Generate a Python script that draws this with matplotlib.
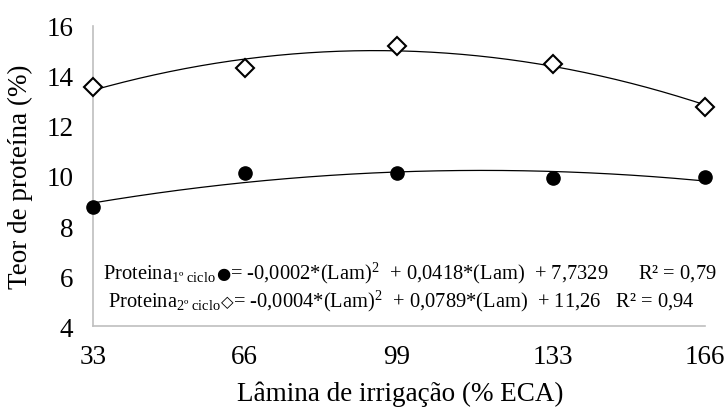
import numpy as np
import matplotlib
matplotlib.use("Agg")
import matplotlib.pyplot as plt

plt.rcParams['font.family'] = ['Liberation Serif', 'DejaVu Sans']
plt.rcParams['mathtext.fontset'] = 'custom'
plt.rcParams['mathtext.rm'] = 'Liberation Serif'
plt.rcParams['mathtext.it'] = 'Liberation Serif:italic'

# irrigation depth (% ECA) and protein content per cycle
lamina = [33, 66, 99, 133, 166]
proteina_ciclo1 = [8.75, 10.1, 10.1, 9.9, 9.95]
proteina_ciclo2 = [13.57, 14.33, 15.2, 14.47, 12.77]

x_ticks = [33, 66, 99, 133, 166]
y_ticks = [4, 6, 8, 10, 12, 14, 16]

eq1_parts = [r"Proteina$_{\mathrm{1º\ ciclo}}$", "●",
             r"= -0,0002*(Lam)$^{2}$  + 0,0418*(Lam)  + 7,7329      R² = 0,79"]
eq2_parts = [r"Proteina$_{\mathrm{2º\ ciclo}}$", "◇",
             r"= -0,0004*(Lam)$^{2}$  + 0,0789*(Lam)  + 11,26   R² = 0,94"]

fig = plt.figure(figsize=(7.26, 4.10), dpi=100)
ax = fig.add_axes([0.128, 0.2024, 0.843, 0.7318])

# quadratic trend lines fitted to each series
xs = np.linspace(lamina[0], lamina[-1], 200)
for ys in (proteina_ciclo1, proteina_ciclo2):
    c = np.polyfit(lamina, ys, 2)
    ax.plot(xs, np.polyval(c, xs), color='black', lw=0.9, zorder=2)

ax.plot(lamina, proteina_ciclo1, 'o', ms=9.5, color='black', zorder=3, clip_on=False)
ax.plot(lamina, proteina_ciclo2, 'D', ms=9, mfc='white', mec='black', mew=1.5,
        zorder=3, clip_on=False)

ax.set_xlim(33, 166)
ax.set_ylim(4, 16)
ax.set_xticks(x_ticks)
ax.set_yticks(y_ticks)
ax.tick_params(length=0, labelsize=19.5)
ax.tick_params(axis='x', pad=13)
ax.tick_params(axis='y', pad=14)
for side in ('top', 'right'):
    ax.spines[side].set_visible(False)
for side in ('left', 'bottom'):
    ax.spines[side].set_color('#bfbfbf')
    ax.spines[side].set_linewidth(1.2)

ax.set_xlabel("Lâmina de irrigação (% ECA)", fontsize=19.5)
ax.set_ylabel("Teor de proteína (%)", fontsize=19.5)
ax.xaxis.set_label_coords(0.502, -0.18)
ax.yaxis.set_label_coords(-0.098, 0.5)


def chain_text(x, y, parts, size):
    # lay text pieces side by side on one baseline
    renderer = fig.canvas.get_renderer()
    for i, s in enumerate(parts):
        if i == 1:
            t = ax.text(x, y, s, transform=ax.transAxes, va='baseline',
                        fontsize=size * 0.8, family='DejaVu Sans')
        else:
            t = ax.text(x, y, s, transform=ax.transAxes, va='baseline', fontsize=size)
        bb = t.get_window_extent(renderer)
        x = ax.transAxes.inverted().transform((bb.x1, bb.y0))[0]


chain_text(0.016, 0.16, eq1_parts, 14.8)
chain_text(0.024, 0.067, eq2_parts, 14.8)

fig.savefig("out.png", dpi=100)
